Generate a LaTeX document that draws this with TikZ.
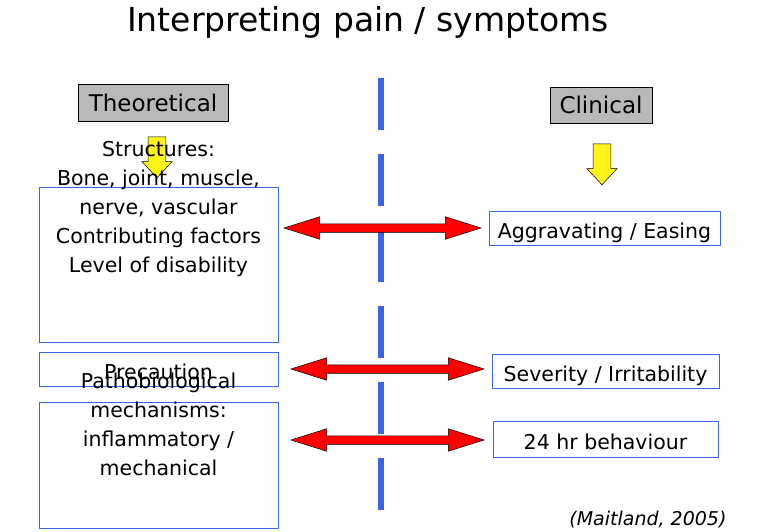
\documentclass[tikz,border=0pt]{standalone}
\usepackage{fontspec}
\setmainfont{DejaVu Sans}
\usetikzlibrary{shapes.arrows}
\definecolor{bl}{RGB}{60,100,230}
\begin{document}
\begin{tikzpicture}[x=1pt,y=-1pt,
  box/.style={draw=bl,line width=0.8pt,fill=white,inner sep=0pt,align=center,font=\fontsize{20.5}{29}\selectfont},
  one/.style={text height=20pt,text depth=0pt},
  hd/.style={draw=black,fill=gray!55,inner sep=0pt,font=\fontsize{23}{24}\selectfont},
  dbl/.style={double arrow,draw=black,line width=0.5pt,fill=red,inner sep=0pt,minimum width=22pt,double arrow head extend=7pt,double arrow tip angle=35,text height=8pt},
  yel/.style={single arrow,draw=black,line width=0.5pt,fill=yellow!90!white,inner sep=0pt,minimum width=30pt,single arrow head extend=6pt,single arrow tip angle=86,shape border rotate=270,text width=17pt}]
\useasboundingbox (0,0) rectangle (777,532);
\node[font=\fontsize{33}{36}\selectfont] (title) at (368,22) {Interpreting pain / symptoms};
\draw[bl,line width=6pt,dash pattern=on 52pt off 24pt] (381,78) coordinate (lt) -- (381,512) coordinate (lb);
\node[hd,minimum width=150pt,minimum height=37pt] (th) at (153,102.5) {Theoretical};
\node[hd,minimum width=102pt,minimum height=36pt] (cl) at (601,105) {Clinical};
\node[yel,minimum height=41pt] (ya) at (157,152.5) {};
\node[yel,minimum height=41pt] (yb) at (602,159.5) {};
\node[box,minimum width=239pt,minimum height=155pt,text height=21pt] (b1) at (158.5,264.5) {Structures:\\Bone, joint, muscle,\\nerve, vascular\\Contributing factors\\Level of disability};
\node[box,one,minimum width=239pt,minimum height=34pt] (b2) at (158.5,369) {Precaution};
\node[box,minimum width=239pt,minimum height=126pt,text height=21pt] (b3) at (158.5,465) {Pathobiological\\mechanisms:\\inflammatory /\\mechanical};
\node[box,one,minimum width=231pt,minimum height=34pt] (c1) at (604.5,228) {Aggravating / Easing};
\node[box,one,minimum width=227pt,minimum height=34pt] (c2) at (605.5,371) {Severity / Irritability};
\node[box,one,minimum width=225pt,minimum height=36pt] (c3) at (605.5,439) {24 hr behaviour};
\node[dbl,minimum height=197pt] (a1) at (382.5,228) {};
\node[dbl,minimum height=193pt] (a2) at (387.5,369) {};
\node[dbl,minimum height=193pt] (a3) at (387.5,440) {};
\node[font=\fontsize{19}{20}\selectfont\itshape,anchor=east] (cit) at (730,520) {(Maitland, 2005)};
\end{tikzpicture}
\end{document}
